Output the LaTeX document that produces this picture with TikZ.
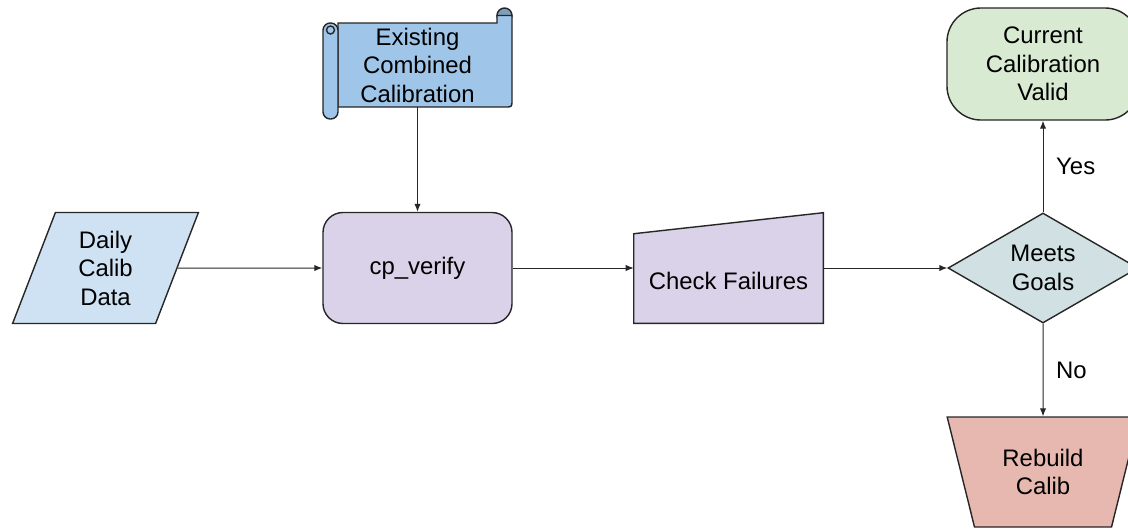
\documentclass[tikz,border=0pt]{standalone}
\usepackage{fontspec}
\setmainfont{Liberation Sans}
\usepackage{tikz}
\usetikzlibrary{shapes.geometric}
\usetikzlibrary{arrows.meta}
\usetikzlibrary{backgrounds}
\definecolor{dailyfill}{HTML}{CFE2F3}
\definecolor{verifyfill}{HTML}{D9D2E9}
\definecolor{scrollfill}{HTML}{9FC5E8}
\definecolor{scrolldark}{HTML}{7F9EBA}
\definecolor{goalsfill}{HTML}{D0E0E3}
\definecolor{currentfill}{HTML}{D9EAD3}
\definecolor{rebuildfill}{HTML}{E6B8AF}

\begin{document}
\begin{tikzpicture}[x=0.025cm,y=-0.025cm,
  every node/.style={font=\fontsize{17}{20.3}\selectfont, align=center, text=black},
  box/.style={draw=black!85, line width=1pt},
  arr/.style={-{Latex[length=2mm,width=1.6mm]}, line width=0.7pt, draw=black!85}]
\useasboundingbox (0,0) rectangle (1128,529);

\node[box, fill=dailyfill, trapezium, trapezium left angle=72, trapezium right angle=108, trapezium stretches=true, minimum width=4.675cm, minimum height=2.775cm] (daily) at (105.5,268) {Daily\\Calib\\Data};
\node[box, fill=verifyfill, rounded corners=0.5cm, minimum width=4.725cm, minimum height=2.775cm] (verify) at (417.5,268) {cp\_verify};
\node[inner sep=0pt, minimum width=4.35cm, minimum height=2.1cm] (combined) at (417.5,65) {Existing\\Combined\\Calibration};
\node[minimum width=4.725cm, minimum height=2.75cm] (check) at (728.5,268) {};
\node (checktxt) at (728.5,281) {Check Failures};
\node[box, fill=goalsfill, diamond, aspect=1.73, inner sep=0pt, minimum width=4.75cm, minimum height=2.75cm] (goals) at (1043,268) {Meets\\Goals};
\node[box, fill=currentfill, rounded corners=0.85cm, minimum width=4.8cm, minimum height=2.8cm] (current) at (1043,64) {Current\\Calibration\\Valid};
\node[box, fill=rebuildfill, trapezium, trapezium left angle=72, trapezium right angle=72, shape border rotate=180, trapezium stretches=true, minimum width=4.8cm, minimum height=2.75cm] (rebuild) at (1043,472) {Rebuild\\Calib};

\begin{scope}[on background layer]
\filldraw[box, fill=scrolldark] (504.5,15.5) circle[radius=0.1875cm];
\filldraw[box, fill=scrollfill] (338,23) -- (497,23) -- (497,15.5) -- (512,15.5) -- (512,100) .. controls (512,107) .. (505,107) -- (338,107) -- cycle;
\filldraw[box, fill=scrollfill, rounded corners=0.18cm] (323,23) rectangle (338,119);
\draw[box] (330.5,30) circle[radius=0.1cm];
\filldraw[box, fill=verifyfill] (check.south west) -- (check.south east) -- (check.north east) -- ([yshift=-0.525cm]check.north west) -- cycle;
\end{scope}

\draw[arr] (daily) -- (verify);
\draw[arr] (combined) -- (verify);
\draw[arr] (verify) -- (check);
\draw[arr] (check) -- (goals);
\draw[arr] (goals) -- node[right=0.2cm] (yes) {Yes} (current);
\draw[arr] (goals) -- node[right=0.2cm] (no) {No} (rebuild);

\end{tikzpicture}
\end{document}
